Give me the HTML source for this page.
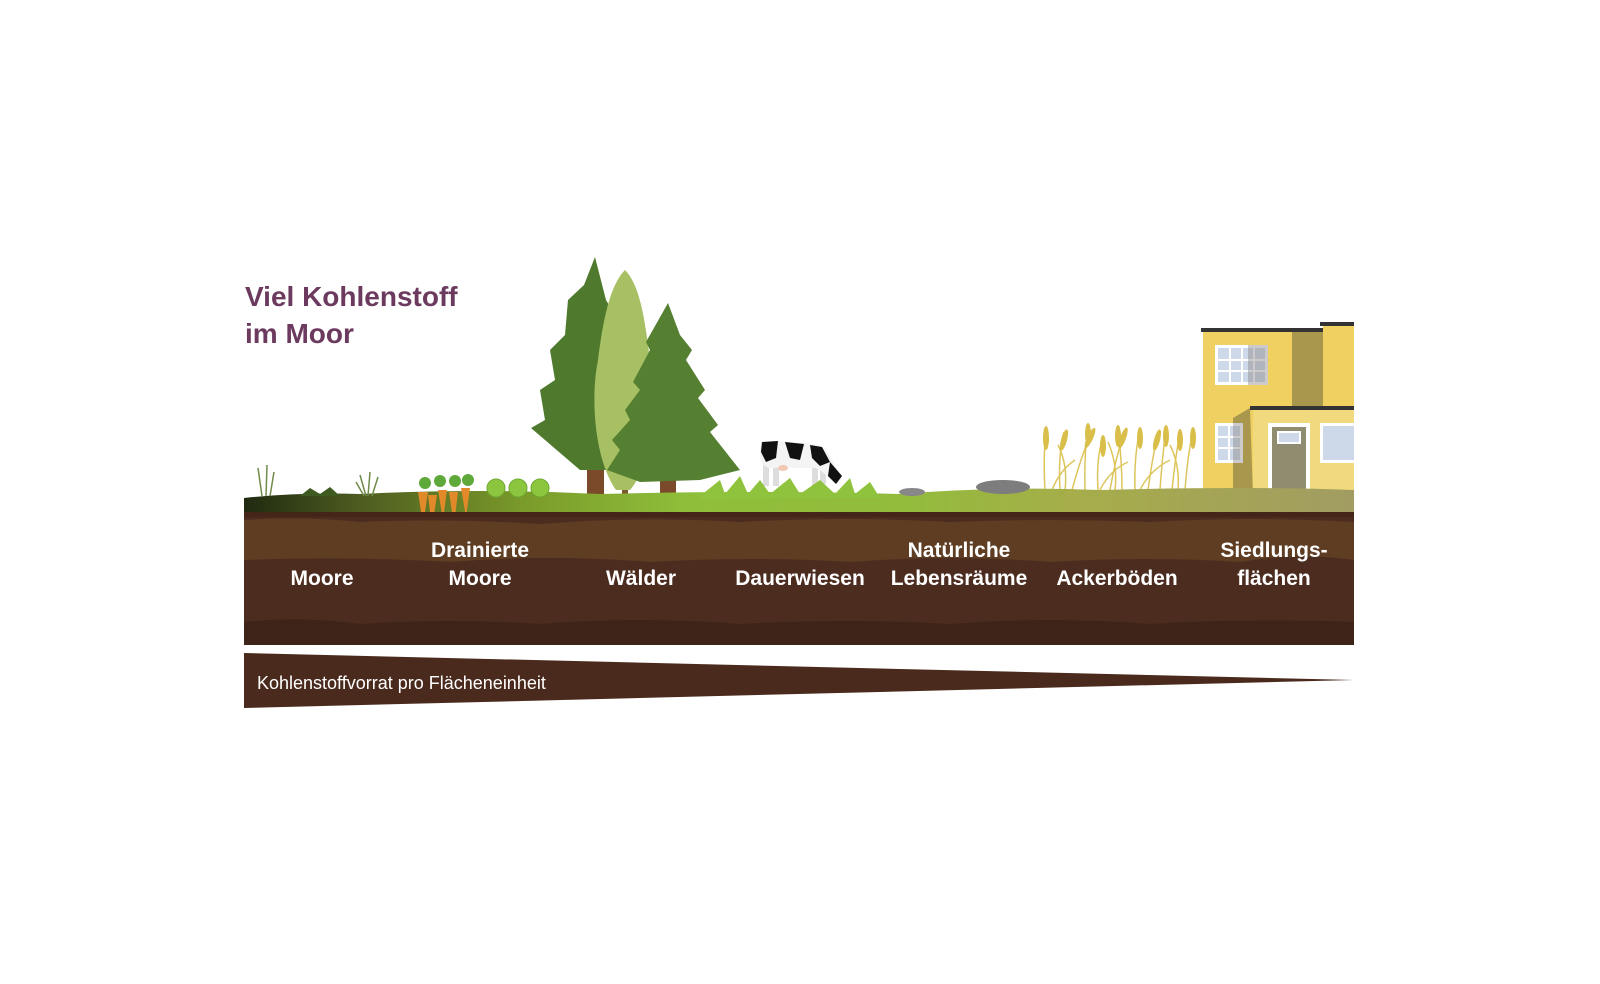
<!DOCTYPE html>
<html><head><meta charset="utf-8"><style>
html,body{margin:0;padding:0;background:#fff;}
svg{display:block;}
text{font-family:"Liberation Sans",sans-serif;}
</style></head><body>
<svg width="1600" height="984" viewBox="0 0 1600 984" xmlns="http://www.w3.org/2000/svg">
<defs>
<linearGradient id="gl" x1="0" x2="1" y1="0" y2="0">
<stop offset="0" stop-color="#1f2a10"/><stop offset="0.1" stop-color="#4c5a20"/><stop offset="0.25" stop-color="#7a9a2a"/><stop offset="0.4" stop-color="#8fbf3a"/><stop offset="0.6" stop-color="#93bb3c"/><stop offset="0.75" stop-color="#a6ad4a"/><stop offset="1" stop-color="#a29c62"/>
</linearGradient>
</defs>
<text x="245" y="306" font-size="28" font-weight="bold" fill="#6b3a5e">Viel Kohlenstoff</text>
<text x="245" y="343" font-size="28" font-weight="bold" fill="#6b3a5e">im Moor</text>

<!-- house -->
<rect x="1320" y="322" width="34" height="4" fill="#333"/>
<rect x="1323" y="326" width="31" height="170" fill="#efd060"/>
<rect x="1201" y="328" width="122" height="4" fill="#333"/>
<rect x="1203" y="332" width="89" height="164" fill="#efd060"/>
<rect x="1292" y="332" width="31" height="164" fill="#a9974e"/>
<rect x="1215" y="345" width="53" height="40" fill="#fff"/>
<rect x="1218" y="348" width="47" height="34" fill="#cdd9e8"/>
<g stroke="#fff" stroke-width="2"><line x1="1230" y1="348" x2="1230" y2="382"/><line x1="1242" y1="348" x2="1242" y2="382"/><line x1="1254" y1="348" x2="1254" y2="382"/><line x1="1218" y1="360" x2="1265" y2="360"/><line x1="1218" y1="371" x2="1265" y2="371"/></g>
<rect x="1248" y="345" width="20" height="40" fill="#8d8a8a" opacity="0.45"/>
<polygon points="1233,418 1250,408 1253,496 1233,496" fill="#a9974e"/>
<rect x="1250" y="406" width="104" height="4" fill="#333"/>
<rect x="1253" y="410" width="101" height="86" fill="#f1d97e"/>
<rect x="1215" y="423" width="28" height="40" fill="#fff"/>
<rect x="1218" y="426" width="22" height="34" fill="#cdd9e8"/>
<g stroke="#fff" stroke-width="2"><line x1="1229" y1="426" x2="1229" y2="460"/><line x1="1218" y1="437" x2="1240" y2="437"/><line x1="1218" y1="448" x2="1240" y2="448"/></g>
<rect x="1233" y="423" width="10" height="40" fill="#8d8a8a" opacity="0.45"/>
<rect x="1268" y="423" width="42" height="66" fill="#fff"/>
<rect x="1272" y="427" width="34" height="62" fill="#8f8c70"/>
<rect x="1278" y="432" width="22" height="11" fill="#cdd9e8" stroke="#fff" stroke-width="2"/>
<rect x="1320" y="423" width="34" height="40" fill="#fff"/>
<rect x="1323" y="426" width="31" height="34" fill="#cdd9e8"/>

<!-- wheat -->
<g stroke="#d9bf4a" stroke-width="1.5" fill="none" opacity="0.9">
<path d="M1045 490 Q1043 460 1046 428 M1060 490 Q1058 455 1064 432 M1072 490 Q1080 460 1092 430 M1085 490 Q1084 455 1088 425 M1098 490 Q1096 458 1103 438 M1110 490 Q1115 460 1125 430 M1122 490 Q1122 460 1118 428 M1135 490 Q1134 455 1140 430 M1148 490 Q1152 460 1158 432 M1160 490 Q1162 460 1166 428 M1172 490 Q1175 460 1180 432 M1185 490 Q1187 460 1193 430 M1052 490 Q1060 470 1075 460 M1100 490 Q1110 470 1128 462 M1140 490 Q1150 470 1170 460 M1065 490 Q1068 465 1058 445 M1115 490 Q1118 465 1108 442 M1178 490 Q1180 465 1170 445"/>
</g>
<g fill="#d9bf4a">
<ellipse cx="1046" cy="438" rx="3" ry="12"/><ellipse cx="1064" cy="440" rx="3" ry="11" transform="rotate(15 1064 440)"/><ellipse cx="1090" cy="438" rx="3" ry="11" transform="rotate(25 1090 438)"/><ellipse cx="1088" cy="434" rx="3" ry="11"/><ellipse cx="1103" cy="446" rx="3" ry="11"/><ellipse cx="1123" cy="438" rx="3" ry="11" transform="rotate(20 1123 438)"/><ellipse cx="1118" cy="436" rx="3" ry="11"/><ellipse cx="1140" cy="438" rx="3" ry="11"/><ellipse cx="1157" cy="440" rx="3" ry="11" transform="rotate(15 1157 440)"/><ellipse cx="1166" cy="436" rx="3" ry="11"/><ellipse cx="1180" cy="440" rx="3" ry="11"/><ellipse cx="1193" cy="438" rx="3" ry="11"/>
</g>

<!-- trees -->
<rect x="587" y="420" width="17" height="82" fill="#7a4a2a"/>
<polygon points="595,257 606,300 618,320 612,330 630,360 622,370 640,405 632,412 650,440 612,440 610,470 580,470 531,428 545,420 540,390 555,380 550,350 565,335 568,300 584,285" fill="#4f7a2e"/>
<path d="M625 510 L625 440" stroke="#7a5a2a" stroke-width="6"/>
<path d="M625 270 C640 285 645 320 650 360 C658 400 655 460 630 490 L616 490 C595 460 590 400 598 360 C603 320 610 285 625 270Z" fill="#a7c063"/>
<rect x="660" y="430" width="16" height="77" fill="#7a4a2a"/>
<polygon points="668,303 680,335 692,350 686,360 705,390 698,398 718,425 710,432 740,470 700,480 640,482 607,470 620,450 612,440 630,420 625,410 640,390 633,382 650,350 646,342" fill="#557f31"/>

<!-- ground -->
<path d="M244 498 Q300 492 360 494 Q480 488 600 494 Q760 490 900 494 Q1000 486 1100 490 Q1250 486 1354 490 L1354 515 L244 515Z" fill="url(#gl)"/>
<!-- cow -->
<g>
<rect x="763" y="462" width="6" height="24" fill="#ddd"/>
<rect x="773" y="462" width="6" height="24" fill="#ddd"/>
<rect x="812" y="462" width="6" height="24" fill="#ddd"/>
<rect x="820" y="462" width="6" height="22" fill="#ddd"/>
<path d="M760 448 Q762 440 780 441 L815 444 Q826 446 830 456 L842 478 L836 484 L828 478 Q822 470 815 468 L770 468 Q760 466 760 456Z" fill="#f4f4f4"/>
<g fill="#111"><path d="M762 442 L778 441 L776 458 L766 462 L761 452Z"/><path d="M785 442 L804 444 L800 460 L790 458Z"/><path d="M810 445 L822 447 L830 462 L820 466 L812 458Z"/><path d="M830 462 L842 476 L836 484 L828 476Z"/></g>
<ellipse cx="783" cy="468" rx="5" ry="3" fill="#f0c8b4"/>
</g>
<path d="M700 496 L720 480 L725 494 L740 476 L748 494 L760 480 L770 494 L790 478 L800 494 L820 480 L835 494 L850 478 L855 494 L870 482 L880 498 L700 500Z" fill="#8fc23d"/>
<!-- cabbages & carrots -->
<g fill="#8cc63f" stroke="#6fa830"><circle cx="496" cy="488" r="9"/><circle cx="518" cy="488" r="9"/><circle cx="540" cy="488" r="9"/></g>
<g fill="#5fa83a"><circle cx="425" cy="483" r="6"/><circle cx="440" cy="481" r="6"/><circle cx="455" cy="481" r="6"/><circle cx="468" cy="480" r="6"/></g>
<g fill="#e28a2a"><path d="M418 492 L428 492 L423 525Z"/><path d="M428 495 L437 495 L432 528Z"/><path d="M438 490 L447 490 L443 520Z"/><path d="M449 492 L458 492 L454 525Z"/><path d="M461 488 L470 488 L466 517Z"/></g>
<ellipse cx="912" cy="492" rx="13" ry="4" fill="#888"/>
<ellipse cx="1003" cy="487" rx="27" ry="7" fill="#7d7d7d"/>
<g stroke="#6f8a4a" stroke-width="1.5"><path d="M262 496 L258 468 M266 496 L267 465 M270 496 L274 472 M366 496 L360 475 M368 496 L370 472 M372 496 L378 477 M364 496 L356 482"/></g>
<path d="M300 496 L310 488 L320 494 L330 487 L340 496Z" fill="#3e5a20"/>

<!-- soil -->
<rect x="244" y="512" width="1110" height="133" fill="#4b2c1f"/>
<path d="M244 520 Q300 516 360 522 Q450 518 540 524 Q640 516 740 522 Q850 516 950 522 Q1050 518 1150 522 Q1250 516 1354 522 L1354 560 Q1300 552 1240 562 Q1150 556 1050 562 Q950 554 850 562 Q750 556 650 562 Q550 554 450 562 Q350 556 244 560Z" fill="#5e3d23"/>
<path d="M244 622 Q300 616 360 624 Q450 618 540 624 Q640 616 740 624 Q850 618 950 624 Q1050 616 1150 624 Q1250 618 1354 622 L1354 645 L244 645Z" fill="#3e2418"/>
<rect x="244" y="512" width="1110" height="5" fill="#442619"/>

<g fill="#fff" font-size="21" font-weight="bold" text-anchor="middle">
<text x="322" y="585">Moore</text>
<text x="480" y="557">Drainierte</text><text x="480" y="585">Moore</text>
<text x="641" y="585">Wälder</text>
<text x="800" y="585">Dauerwiesen</text>
<text x="959" y="557">Natürliche</text><text x="959" y="585">Lebensräume</text>
<text x="1117" y="585">Ackerböden</text>
<text x="1274" y="557">Siedlungs-</text><text x="1274" y="585">flächen</text>
</g>

<polygon points="244,653 1354,680 244,708" fill="#4a2a1c"/>
<text x="257" y="689" font-size="18" fill="#fff">Kohlenstoffvorrat pro Flächeneinheit</text>
</svg>
</body></html>
